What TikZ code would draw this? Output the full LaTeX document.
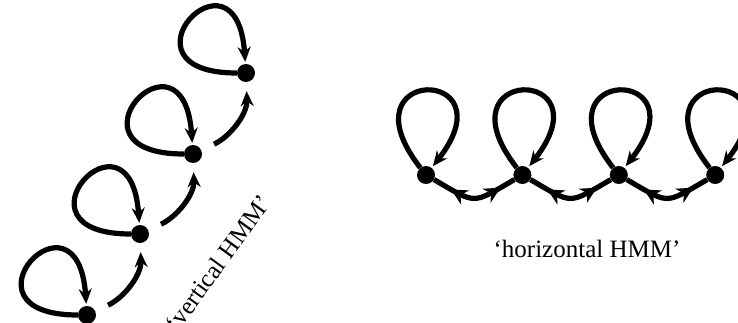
\documentclass[tikz,border=0pt]{standalone}
\usepackage{fontspec}
\setmainfont{Liberation Serif}
\usetikzlibrary{arrows.meta,positioning,decorations.markings}

\begin{document}
\begin{tikzpicture}[
  x=1pt, y=1pt,
  node distance=78pt,
  dot/.style={circle, fill=black, inner sep=0pt, minimum size=18pt},
  wire/.style={line width=5.2pt, draw=black},
  arrow/.style={wire, -{Stealth[length=15pt, width=13pt, inset=5pt]}},
  selfloop/.style={arrow, shorten >=2pt},
  twoway/.style={wire, postaction={decorate}, decoration={markings,
      mark=at position 0.22 with {\arrowreversed{Stealth[length=16pt, width=16pt, inset=5pt]}},
      mark=at position 0.82 with {\arrow{Stealth[length=16pt, width=16pt, inset=5pt]}}}},
  caption/.style={font=\fontsize{25}{30}\selectfont, inner sep=0pt, anchor=base}
]
\useasboundingbox (0,0) rectangle (738,322);
\clip (0,0) rectangle (738,322);

% horizontal chain
\node[dot] (h1) at (426,147) {};
\node[dot, right=of h1] (h2) {};
\node[dot, right=of h2] (h3) {};
\node[dot, right=of h3] (h4) {};

% vertical chain
\node[dot] (v1) at (87,7) {};
\node[dot] (v2) at (140,88) {};
\node[dot] (v3) at (193,168) {};
\node[dot] (v4) at (246,249) {};

\draw[selfloop] (h1) to[out=128, in=52, min distance=130pt] (h1);
\draw[selfloop] (h2) to[out=128, in=52, min distance=130pt] (h2);
\draw[selfloop] (h3) to[out=128, in=52, min distance=130pt] (h3);
\draw[selfloop] (h4) to[out=128, in=52, min distance=130pt] (h4);

\draw[twoway] (h1) to[out=-30, in=-150, looseness=1.6] (h2);
\draw[twoway] (h2) to[out=-30, in=-150, looseness=1.6] (h3);
\draw[twoway] (h3) to[out=-30, in=-150, looseness=1.6] (h4);

\draw[selfloop] (v1) to[out=180, in=94, min distance=128pt] (v1);
\draw[selfloop] (v2) to[out=180, in=94, min distance=128pt] (v2);
\draw[selfloop] (v3) to[out=180, in=94, min distance=128pt] (v3);
\draw[selfloop] (v4) to[out=180, in=94, min distance=128pt] (v4);

\draw[arrow, shorten <=14pt, shorten >=9pt] (v1) to[out=25, in=-88] (v2);
\draw[arrow, shorten <=14pt, shorten >=9pt] (v2) to[out=25, in=-88] (v3);
\draw[arrow, shorten <=14pt, shorten >=9pt] (v3) to[out=25, in=-88] (v4);

\node[caption] (htext) at (587,65) {‘horizontal HMM’};
\node[caption, rotate=54] (vtext) at (225,54) {‘vertical HMM’};
\end{tikzpicture}
\end{document}
